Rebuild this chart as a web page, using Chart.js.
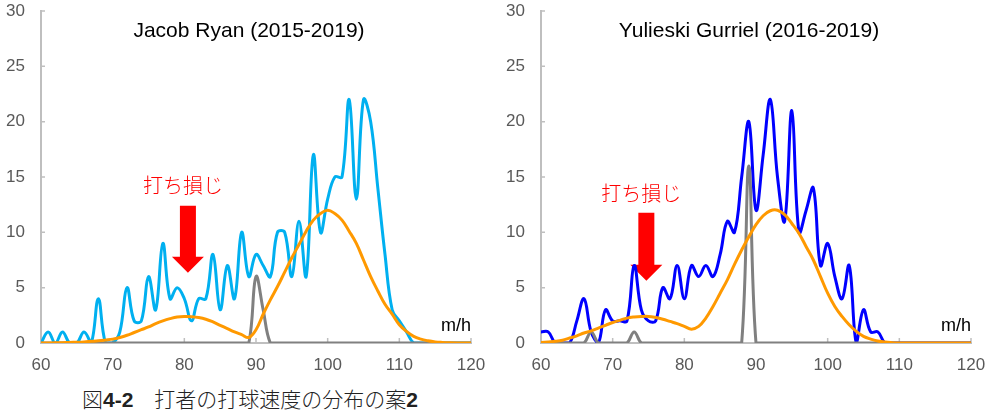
<!DOCTYPE html>
<html lang="ja">
<head>
<meta charset="utf-8">
<title>打者の打球速度の分布</title>
<script src="https://cdn.jsdelivr.net/npm/chart.js@4.4.1/dist/chart.umd.min.js"></script>
<style>
  html, body { margin:0; padding:0; background:#fff; }
  body { width:999px; height:419px; position:relative; overflow:hidden; }
  canvas { position:absolute; top:0; }
  #chart-ryan { left:0; }
  #chart-gurriel { left:500px; }
  #caption {
    position:absolute; left:0; width:500px; top:388px;
    text-align:center; font-family:"Noto Sans CJK JP", sans-serif; font-weight:300;
    font-size:21px; line-height:21px; color:#222;
  }
  #caption b { font-family:"Liberation Sans", Arial, sans-serif; font-weight:bold; }
</style>
</head>
<body>
<canvas id="chart-ryan" width="500" height="380"></canvas>
<canvas id="chart-gurriel" width="500" height="380"></canvas>
<div id="caption">図<b>4-2</b>　打者の打球速度の分布の案<b>2</b></div>

<script>
/* ---------- Data ---------- */
const SPEEDS = [
  60, 61, 62, 63, 64, 65, 66, 67, 68, 69,
  70, 71, 72, 73, 74, 75, 76, 77, 78, 79,
  80, 81, 82, 83, 84, 85, 86, 87, 88, 89,
  90, 91, 92, 93, 94, 95, 96, 97, 98, 99,
  100, 101, 102, 103, 104, 105, 106, 107, 108, 109,
  110, 111, 112, 113, 114, 115, 116, 117, 118, 119,
  120
];
const X_TICKS = [60, 70, 80, 90, 100, 110, 120];
const Y_TICKS = [0, 5, 10, 15, 20, 25, 30];

// Jacob Ryan (2015-2019)
const RYAN_COUNTS = [
  0, 1, 0, 1, 0, 0, 1, 0, 4, 0,
  0, 1, 5, 2, 2, 6, 3, 9, 4, 5,
  4, 2, 4, 4, 8, 3, 7, 4, 10, 6,
  8, 7, 6, 10, 10, 6, 11, 6, 17, 10,
  13, 15, 15, 22, 13, 22, 20, 14, 8, 3,
  2, 1, 0, 0, 0, 0, 0, 0, 0, 0,
  0
];
const RYAN_MISHITS = [
  0, 0, 0, 0, 0, 0, 0, 0, 0, 0,
  0, 0, 0, 0, 0, 0, 0, 0, 0, 0,
  0, 0, 0, 0, 0, 0, 0, 0, 0, 0,
  6, 3, 0, 0, 0, 0, 0, 0, 0, 0,
  0, 0, 0, 0, 0, 0, 0, 0, 0, 0,
  0, 0, 0, 0, 0, 0, 0, 0, 0, 0,
  0
];
const RYAN_FIT = [
  0, 0, 0.02, 0.03, 0.05, 0.07, 0.1, 0.15, 0.2, 0.27,
  0.35, 0.5, 0.7, 0.95, 1.2, 1.45, 1.75, 2.0, 2.2, 2.35,
  2.4, 2.38, 2.3, 2.15, 1.9, 1.6, 1.3, 1.0, 0.75, 0.5,
  1.2, 2.6, 3.9, 5.1, 6.4, 7.7, 8.9, 10.1, 11.1, 11.7,
  12.0, 11.7, 11.1, 10.1, 9.0, 7.5, 6.0, 4.7, 3.5, 2.6,
  1.65, 1.05, 0.6, 0.35, 0.2, 0.1, 0.05, 0.02, 0, 0,
  0
];

// Yulieski Gurriel (2016-2019)
const GURRIEL_COUNTS = [
  1, 1, 0, 0, 0, 2, 4, 1, 0, 3,
  2, 2, 2, 7, 3, 2, 2, 5, 4, 7,
  4, 7, 6, 7, 6, 8, 11, 10, 15, 20,
  12, 17, 22, 15, 11, 21, 10, 12, 14, 7,
  9, 6, 4, 7, 0, 3, 1, 1, 0, 0,
  0, 0, 0, 0, 0, 0, 0, 0, 0, 0,
  0
];
const GURRIEL_MISHITS = [
  0, 0, 0, 0, 0, 0, 0, 1, 0, 0,
  0, 0, 0, 1, 0, 0, 0, 0, 0, 0,
  0, 0, 0, 0, 0, 0, 0, 0, 0, 16,
  0, 0, 0, 0, 0, 0, 0, 0, 0, 0,
  0, 0, 0, 0, 0, 0, 0, 0, 0, 0,
  0, 0, 0, 0, 0, 0, 0, 0, 0, 0,
  0
];
const GURRIEL_FIT = [
  0.05, 0.1, 0.15, 0.25, 0.45, 0.65, 0.9, 1.1, 1.35, 1.6,
  1.85, 2.05, 2.25, 2.35, 2.4, 2.4, 2.3, 2.15, 1.95, 1.75,
  1.5, 1.25, 1.5, 2.25, 3.3, 4.5, 5.7, 7.1, 8.4, 9.6,
  10.7, 11.5, 11.95, 12.0, 11.6, 10.8, 9.9, 8.7, 7.5, 6.0,
  4.5, 3.3, 2.4, 1.65, 1.05, 0.6, 0.35, 0.18, 0.08, 0.03,
  0, 0, 0, 0, 0, 0, 0, 0, 0, 0,
  0
];

/* ---------- Styling ---------- */
const AXIS_GRAY = '#BFBFBF';
const TICK_TEXT = '#595959';
const ORANGE = '#FF9900';
const GRAY = '#808080';
const ARROW_RED = '#FF0000';

function series(values, color){
  return {
    data: SPEEDS.map((s, i) => ({ x: s, y: values[i] })),
    borderColor: color,
    borderWidth: 3,
    pointRadius: 0,
    tension: 0.4,
    fill: false
  };
}

// Title, "m/h" unit, inside tick marks, the red arrow and its note.
const overlayPlugin = {
  id: 'overlay',
  beforeDatasetsDraw(chart, args, opts){
    const ctx = chart.ctx;
    const xs = chart.scales.x, ys = chart.scales.y;
    const { left, bottom } = chart.chartArea;
    ctx.save();
    ctx.strokeStyle = AXIS_GRAY;
    ctx.lineWidth = 1.5;
    ctx.beginPath();
    X_TICKS.forEach(v => { const px = xs.getPixelForValue(v); ctx.moveTo(px, bottom); ctx.lineTo(px, bottom - 5); });
    Y_TICKS.forEach(v => { const py = ys.getPixelForValue(v); ctx.moveTo(left, py); ctx.lineTo(left + 4, py); });
    ctx.stroke();

    // arrow, in data coordinates
    const a = opts.arrow;
    const cx = xs.getPixelForValue(a.x);
    const yTop = ys.getPixelForValue(a.top);
    const yNeck = ys.getPixelForValue(a.neck);
    const yTip = ys.getPixelForValue(a.tip);
    ctx.fillStyle = ARROW_RED;
    ctx.beginPath();
    ctx.moveTo(cx - 8, yTop);
    ctx.lineTo(cx + 8, yTop);
    ctx.lineTo(cx + 8, yNeck);
    ctx.lineTo(cx + 16, yNeck);
    ctx.lineTo(cx, yTip);
    ctx.lineTo(cx - 16, yNeck);
    ctx.lineTo(cx - 8, yNeck);
    ctx.closePath();
    ctx.fill();

    ctx.font = '300 20px "Noto Sans CJK JP"';
    ctx.textAlign = 'center';
    ctx.textBaseline = 'middle';
    ctx.fillText(opts.note.text, xs.getPixelForValue(opts.note.x), ys.getPixelForValue(opts.note.y));
    ctx.restore();
  },
  afterDraw(chart, args, opts){
    const ctx = chart.ctx;
    const { left, right, top, bottom } = chart.chartArea;
    ctx.save();
    ctx.fillStyle = '#000';
    ctx.textBaseline = 'alphabetic';
    ctx.font = '21px "Liberation Sans"';
    ctx.textAlign = 'center';
    ctx.fillText(opts.title, (left + right) / 2 - 7, top + 25.5);
    ctx.font = '18px "Liberation Sans"';
    ctx.textAlign = 'right';
    ctx.fillText('m/h', right, bottom - 12);
    ctx.restore();
  }
};

function makeChart(id, title, counts, countColor, mishits, fit, arrow, note){
  return new Chart(document.getElementById(id), {
    type: 'line',
    data: {
      // first dataset is drawn on top
      datasets: [series(fit, ORANGE), series(mishits, GRAY), series(counts, countColor)]
    },
    plugins: [overlayPlugin],
    options: {
      responsive: false,
      animation: false,
      devicePixelRatio: 1,
      layout: { padding: { left: 0, right: 29, top: 11, bottom: 0 } },
      plugins: {
        legend: { display: false },
        tooltip: { enabled: false },
        overlay: { title, arrow, note }
      },
      scales: {
        x: {
          type: 'linear', min: 60, max: 120,
          afterBuildTicks: s => { s.ticks = X_TICKS.map(v => ({ value: v })); },
          afterFit: s => { s.height = 37; s.paddingLeft = 0; s.paddingRight = 0; },
          grid: { display: false, drawTicks: false },
          border: { color: AXIS_GRAY, width: 2 },
          ticks: { color: TICK_TEXT, padding: 12, maxRotation: 0, font: { family: 'Liberation Sans', size: 17 } }
        },
        y: {
          min: 0, max: 30,
          afterBuildTicks: s => { s.ticks = Y_TICKS.map(v => ({ value: v })); },
          afterFit: s => { s.width = 41; s.paddingTop = 0; s.paddingBottom = 0; },
          grid: { display: false, drawTicks: false },
          border: { color: AXIS_GRAY, width: 2 },
          ticks: { color: TICK_TEXT, padding: 16, font: { family: 'Liberation Sans', size: 17 } }
        }
      }
    }
  });
}

makeChart('chart-ryan', 'Jacob Ryan (2015-2019)', RYAN_COUNTS, '#00B0F0', RYAN_MISHITS, RYAN_FIT,
  { x: 80.5, top: 12.4, neck: 7.8, tip: 6.35 },
  { text: '打ち損じ', x: 79.8, y: 14.2 });
makeChart('chart-gurriel', 'Yulieski Gurriel (2016-2019)', GURRIEL_COUNTS, '#0000FF', GURRIEL_MISHITS, GURRIEL_FIT,
  { x: 74.7, top: 11.76, neck: 7.07, tip: 5.62 },
  { text: '打ち損じ', x: 74.0, y: 13.5 });
</script>
</body>
</html>
